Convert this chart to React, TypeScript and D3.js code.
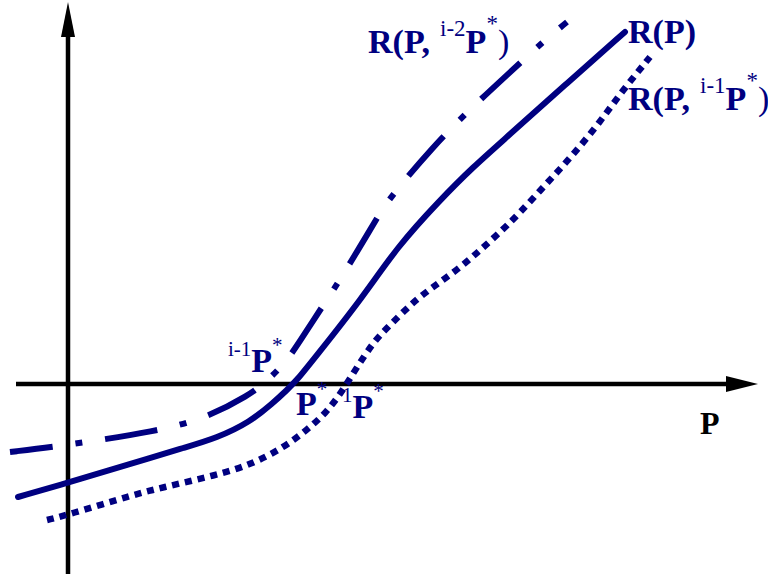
import React from "react";
import * as d3 from "d3";

const solidPts: [number, number][] = [
  [-1.0, -2.26], [-0.02, -1.98], [0.84, -1.72], [1.64, -1.48], [2.3, -1.28], [2.98, -1.08],
  [3.64, -0.76], [4.1, -0.38], [4.38, -0.12], [4.58, 0.08], [4.9, 0.48], [5.9, 1.74],
  [6.58, 2.74], [7.44, 3.68], [8.1, 4.34], [8.78, 4.94], [9.94, 5.98], [11.14, 7.04],
];
const dashDotPts: [number, number][] = [
  [-1.16, -1.36], [-0.32, -1.26], [0.64, -1.12], [1.64, -0.96], [2.68, -0.72], [3.64, -0.22],
  [4.0, 0.08], [4.4, 0.48], [4.78, 1.08], [5.24, 1.78], [5.5, 2.18], [6.04, 3.08],
  [6.3, 3.52], [6.6, 3.92], [7.28, 4.72], [7.98, 5.44], [8.78, 6.18], [9.54, 6.88], [9.98, 7.24],
];
const dottedPts: [number, number][] = [
  [-0.42, -2.72], [-0.02, -2.62], [1.3, -2.22], [1.84, -2.08], [2.98, -1.82], [3.64, -1.62],
  [4.3, -1.28], [4.78, -0.92], [5.18, -0.56], [5.5, -0.12], [5.78, 0.34], [6.1, 0.82],
  [6.3, 1.04], [6.9, 1.64], [7.3, 1.94], [7.78, 2.28], [8.18, 2.62], [8.58, 2.98],
  [9.0, 3.38], [9.58, 4.02], [10.1, 4.58], [10.64, 5.24], [11.1, 5.88], [11.64, 6.54],
];

const W = 768;
const H = 574;
const NAVY = "#000080";
const FONT = "'Liberation Serif', 'Times New Roman', serif";

export default function App() {
  const x = d3.scaleLinear().domain([-1, 14]).range([18, 768]);
  const y = d3.scaleLinear().domain([-4, 8]).range([584, -16]);
  const line = d3
    .line<[number, number]>()
    .x((d) => x(d[0]))
    .y((d) => y(d[1]))
    .curve(d3.curveBasis);

  const x0 = x(0);
  const y0 = y(0);

  return (
    <svg
      width={W}
      height={H}
      style={{ position: "absolute", left: 0, top: 0, display: "block", background: "#fff" }}
    >
      {/* axes */}
      <line x1={x0} y1={H} x2={x0} y2={34} stroke="#000" strokeWidth={4.5} />
      <path d={`M${x0},2 L${x0 - 7},37 L${x0 + 7},37 Z`} fill="#000" />
      <line x1={16} y1={y0} x2={730} y2={y0} stroke="#000" strokeWidth={4.5} />
      <path d={`M758,${y0} L726,${y0 - 8} L726,${y0 + 8} Z`} fill="#000" />

      {/* curves */}
      <path d={line(solidPts) || ""} fill="none" stroke={NAVY} strokeWidth={6} strokeLinecap="round" />
      <path
        d={line(dashDotPts) || ""}
        fill="none"
        stroke={NAVY}
        strokeWidth={6}
        strokeDasharray="53,23,7,23"
        strokeDashoffset={10}
      />
      <path
        d={line(dottedPts) || ""}
        fill="none"
        stroke={NAVY}
        strokeWidth={6.5}
        strokeDasharray="7,6"
      />

      {/* labels */}
      <g fontFamily={FONT} fill={NAVY}>
        <text x={368} y={53} fontSize={34} fontWeight="bold">
          R(P,
          <tspan dx={10} dy={-17} fontSize={23} fontWeight="normal">i-2</tspan>
          <tspan dy={17}>P</tspan>
          <tspan dy={-22} fontSize={23} fontWeight="normal">*</tspan>
          <tspan dy={22} fontWeight="normal">)</tspan>
        </text>
        <text x={628} y={43} fontSize={34} fontWeight="bold">R(P)</text>
        <text x={628} y={110} fontSize={34} fontWeight="bold">
          R(P,
          <tspan dx={10} dy={-17} fontSize={23} fontWeight="normal">i-1</tspan>
          <tspan dy={17}>P</tspan>
          <tspan dy={-22} fontSize={23} fontWeight="normal">*</tspan>
          <tspan dy={22} fontWeight="normal">)</tspan>
        </text>
        <text x={228} y={372} fontSize={34} fontWeight="bold">
          <tspan dy={-16} fontSize={21} fontWeight="normal">i-1</tspan>
          <tspan dy={16}>P</tspan>
          <tspan dy={-20} fontSize={21} fontWeight="normal">*</tspan>
        </text>
        <text x={296} y={415} fontSize={34} fontWeight="bold">
          P
          <tspan dy={-19} fontSize={21} fontWeight="normal">*</tspan>
        </text>
        <text x={342} y={418} fontSize={34} fontWeight="bold">
          <tspan dy={-16} fontSize={21} fontWeight="normal">1</tspan>
          <tspan dy={16}>P</tspan>
          <tspan dy={-20} fontSize={21} fontWeight="normal">*</tspan>
        </text>
      </g>
      <text x={700} y={434} fontFamily={FONT} fontSize={32} fontWeight="bold" fill="#000">P</text>
    </svg>
  );
}
